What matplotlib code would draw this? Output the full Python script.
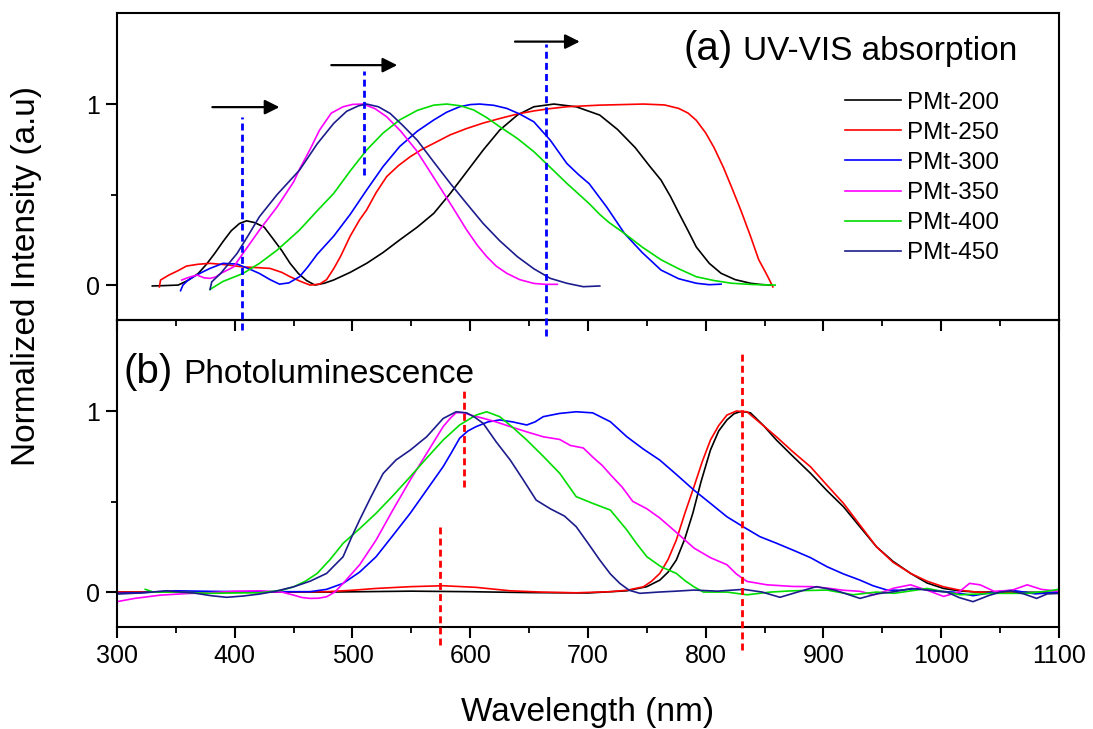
import matplotlib
matplotlib.use('Agg')
import matplotlib.pyplot as plt
from matplotlib.ticker import MultipleLocator, FixedLocator

plt.rcParams['font.family'] = ['Liberation Sans', 'DejaVu Sans']

# ---- (a) UV-VIS absorption ----
abs200_x = [330, 340, 352, 360, 369, 376, 383, 390, 397, 404, 410, 417, 425, 432, 440, 447, 454, 461, 468,
            476, 484, 498, 512, 526, 540, 555, 569, 583, 597, 611, 625, 640, 654, 671, 690, 710, 725, 740,
            752, 762, 770, 777, 785, 792, 803, 813, 825, 838, 847, 855]
abs200_y = [-0.005, -0.003, 0.0, 0.025, 0.064, 0.115, 0.175, 0.24, 0.30, 0.34, 0.355, 0.345, 0.32, 0.26, 0.19,
            0.12, 0.064, 0.025, 0.0, 0.01, 0.028, 0.07, 0.12, 0.18, 0.249, 0.32, 0.396, 0.506, 0.626, 0.746,
            0.856, 0.939, 0.985, 1.0, 0.985, 0.939, 0.86, 0.76, 0.66, 0.58, 0.49, 0.40, 0.30, 0.21, 0.12,
            0.065, 0.03, 0.01, 0.003, 0.0]

abs250_x = [336, 337, 344, 352, 359, 369, 379, 393, 407, 420, 430, 440, 447, 456, 464, 472, 478, 484, 490,
            498, 506, 512, 520, 529, 539, 549, 559, 569, 583, 597, 611, 625, 640, 654, 668, 682, 710, 747,
            765, 777, 785, 792, 800, 807, 815, 822, 830, 838, 845, 850, 854, 857]
abs250_y = [-0.01, 0.028, 0.055, 0.08, 0.105, 0.115, 0.12, 0.112, 0.10, 0.096, 0.092, 0.07, 0.046, 0.02, 0.0,
            0.005, 0.03, 0.09, 0.16, 0.27, 0.36, 0.415, 0.51, 0.599, 0.66, 0.709, 0.75, 0.783, 0.83, 0.865,
            0.895, 0.92, 0.945, 0.962, 0.975, 0.985, 0.994, 1.0, 0.995, 0.976, 0.95, 0.91, 0.84, 0.76, 0.65,
            0.54, 0.41, 0.27, 0.14, 0.08, 0.03, -0.01]

abs300_x = [354, 356, 360, 365, 372, 379, 390, 402, 412, 421, 430, 438, 446, 455, 462, 470, 484, 498, 512,
            526, 540, 555, 569, 580, 591, 600, 608, 620, 631, 642, 654, 668, 682, 692, 701, 716, 731, 746,
            762, 777, 792, 803, 813]
abs300_y = [-0.031, 0.0, 0.025, 0.046, 0.07, 0.092, 0.12, 0.116, 0.09, 0.064, 0.03, 0.005, 0.012, 0.046, 0.1,
            0.17, 0.27, 0.39, 0.525, 0.655, 0.765, 0.85, 0.912, 0.955, 0.985, 0.997, 1.0, 0.993, 0.976, 0.945,
            0.902, 0.80, 0.672, 0.61, 0.56, 0.43, 0.285, 0.18, 0.083, 0.035, 0.01, 0.002, 0.005]

abs350_x = [355, 362, 368, 374, 379, 384, 388, 399, 407, 421, 436, 450, 455, 464, 472, 482, 492, 500, 509,
            519, 529, 541, 554, 564, 574, 586, 597, 606, 614, 622, 631, 642, 654, 664, 674]
abs350_y = [0.028, 0.045, 0.055, 0.04, 0.037, 0.045, 0.064, 0.1, 0.175, 0.304, 0.432, 0.57, 0.64, 0.75, 0.856,
            0.95, 0.985, 0.998, 1.0, 0.975, 0.93, 0.85, 0.746, 0.645, 0.543, 0.42, 0.304, 0.22, 0.157, 0.105,
            0.065, 0.03, 0.009, 0.004, 0.004]

abs400_x = [379, 390, 407, 421, 436, 455, 470, 484, 498, 512, 526, 540, 555, 569, 580, 592, 603, 614, 625,
            640, 654, 668, 682, 701, 710, 718, 731, 746, 762, 777, 792, 807, 822, 840, 859]
abs400_y = [-0.024, 0.02, 0.064, 0.12, 0.193, 0.304, 0.41, 0.506, 0.63, 0.746, 0.84, 0.912, 0.965, 0.994, 1.0,
            0.99, 0.967, 0.925, 0.875, 0.81, 0.737, 0.65, 0.562, 0.45, 0.39, 0.345, 0.285, 0.21, 0.14, 0.09,
            0.046, 0.025, 0.01, 0.003, 0.0]

abs450_x = [379, 380.5, 388, 402, 412, 421, 436, 455, 470, 484, 495, 505, 512, 522, 532, 543, 555, 569, 583,
            597, 611, 625, 640, 654, 668, 682, 696, 710]
abs450_y = [-0.024, 0.018, 0.064, 0.175, 0.28, 0.378, 0.50, 0.635, 0.78, 0.893, 0.96, 0.99, 1.0, 0.985, 0.948,
            0.88, 0.80, 0.68, 0.562, 0.45, 0.34, 0.245, 0.157, 0.09, 0.037, 0.01, -0.009, -0.005]

# ---- (b) Photoluminescence ----
pl200_x = [300, 400, 480, 550, 600, 650, 700, 733, 750, 761, 768, 775, 782, 789, 796, 804, 811, 818, 824, 829,
           834, 838, 849, 860, 874, 889, 903, 917, 931, 945, 959, 974, 988, 1002, 1016, 1030, 1060, 1100]
pl200_y = [0.0, 0.0, 0.0, 0.005, 0.002, -0.003, -0.005, 0.007, 0.03, 0.066, 0.11, 0.177, 0.29, 0.435, 0.61,
           0.785, 0.89, 0.951, 0.985, 0.996, 0.995, 0.99, 0.92, 0.84, 0.75, 0.656, 0.56, 0.471, 0.36, 0.25,
           0.17, 0.103, 0.05, 0.02, 0.006, 0.0, 0.0, -0.003]

pl250_x = [300, 400, 478, 500, 520, 550, 577, 605, 634, 660, 690, 719, 733, 747, 754, 761, 768, 775, 782, 790,
           797, 804, 811, 818, 826, 835, 847, 860, 874, 889, 903, 917, 931, 945, 959, 974, 988, 1002, 1016,
           1030, 1060, 1100]
pl250_y = [0.0, 0.0, 0.002, 0.01, 0.02, 0.03, 0.035, 0.026, 0.007, 0.0, -0.004, 0.002, 0.01, 0.029, 0.06,
           0.103, 0.18, 0.287, 0.43, 0.582, 0.72, 0.84, 0.92, 0.978, 1.0, 0.996, 0.93, 0.858, 0.775, 0.692,
           0.59, 0.49, 0.37, 0.25, 0.165, 0.103, 0.06, 0.029, 0.01, 0.0, -0.005, -0.007]

pl300_x = [300, 320, 350, 380, 407, 440, 464, 478, 492, 506, 520, 534, 549, 563, 577, 584, 591, 598, 605, 615,
           625, 636, 648, 655, 662, 676, 690, 704, 719, 733, 747, 761, 775, 790, 804, 818, 832, 846, 860,
           874, 889, 903, 917, 931, 942, 954, 965, 980, 995, 1010, 1027, 1045, 1060, 1080, 1100]
pl300_y = [-0.007, -0.004, 0.007, 0.004, 0.002, 0.002, 0.002, 0.015, 0.048, 0.11, 0.195, 0.31, 0.435, 0.564,
           0.693, 0.77, 0.85, 0.89, 0.914, 0.94, 0.951, 0.94, 0.923, 0.94, 0.969, 0.987, 0.996, 0.99, 0.941,
           0.858, 0.79, 0.729, 0.65, 0.563, 0.49, 0.416, 0.36, 0.306, 0.27, 0.232, 0.19, 0.14, 0.1, 0.066,
           0.035, 0.011, 0.01, 0.02, 0.005, 0.0, -0.02, 0.0, 0.01, -0.01, 0.0]

pl350_x = [300, 315, 337, 360, 379, 400, 421, 440, 450, 457, 464, 471, 478, 485, 492, 506, 520, 534, 549, 563,
           577, 583, 588, 594, 602, 611, 622, 634, 648, 662, 676, 685, 696, 705, 712, 719, 729, 738, 750,
           761, 775, 790, 804, 818, 826, 835, 852, 874, 890, 903, 917, 931, 943, 950, 960, 974, 988, 1002,
           1015, 1024, 1033, 1045, 1060, 1073, 1085, 1100]
pl350_y = [-0.053, -0.035, -0.017, -0.008, -0.004, 0.005, 0.007, 0.0, -0.017, -0.03, -0.035, -0.034, -0.026,
           0.0, 0.048, 0.15, 0.287, 0.45, 0.619, 0.766, 0.914, 0.96, 0.991, 0.991, 0.975, 0.96, 0.94, 0.914,
           0.885, 0.858, 0.843, 0.81, 0.796, 0.74, 0.70, 0.649, 0.58, 0.501, 0.46, 0.409, 0.33, 0.243, 0.19,
           0.151, 0.10, 0.059, 0.04, 0.031, 0.03, 0.022, 0.01, 0.004, -0.015, 0.0, 0.022, 0.04, 0.01, -0.024,
           0.0, 0.048, 0.04, 0.004, 0.01, 0.04, 0.015, 0.004]

pl400_x = [324, 331, 350, 379, 400, 421, 440, 450, 460, 470, 481, 492, 506, 520, 534, 549, 563, 577, 591, 605,
           614, 625, 636, 648, 662, 676, 690, 704, 719, 733, 741, 750, 762, 775, 783, 790, 798, 818, 835,
           855, 874, 903, 925, 945, 960, 988, 1016, 1045, 1073, 1090, 1100]
pl400_y = [0.015, 0.0, 0.0, -0.007, -0.005, -0.004, 0.01, 0.029, 0.06, 0.103, 0.18, 0.269, 0.35, 0.435, 0.53,
           0.637, 0.74, 0.84, 0.923, 0.978, 0.996, 0.969, 0.91, 0.84, 0.75, 0.656, 0.527, 0.49, 0.453, 0.343,
           0.27, 0.195, 0.14, 0.103, 0.06, 0.029, 0.0, 0.0, -0.015, 0.0, 0.007, 0.011, -0.015, 0.0, -0.007,
           0.02, -0.015, -0.007, -0.007, 0.005, 0.015]

pl450_x = [300, 320, 342, 365, 380, 393, 407, 421, 435, 450, 464, 478, 492, 499, 506, 516, 526, 537, 549, 563,
           577, 588, 597, 604, 611, 622, 634, 645, 656, 668, 680, 690, 700, 710, 719, 727, 735, 744, 760,
           775, 790, 810, 832, 848, 863, 878, 894, 910, 931, 945, 960, 975, 988, 1005, 1015, 1027, 1040,
           1050, 1059, 1070, 1081, 1090, 1100]
pl450_y = [-0.011, -0.005, 0.007, -0.005, -0.02, -0.029, -0.022, -0.011, 0.005, 0.029, 0.06, 0.103, 0.195, 0.3,
           0.398, 0.53, 0.655, 0.73, 0.784, 0.858, 0.959, 0.996, 0.99, 0.965, 0.932, 0.83, 0.729, 0.62,
           0.508, 0.46, 0.42, 0.361, 0.27, 0.177, 0.1, 0.048, 0.01, -0.007, 0.0, 0.005, 0.011, 0.005, 0.015,
           0.0, -0.029, 0.0, 0.03, 0.01, -0.035, -0.01, 0.002, 0.02, 0.011, 0.0, -0.03, -0.053, -0.02, 0.0,
           0.007, -0.01, -0.035, -0.01, -0.007]

labels = ['PMt-200', 'PMt-250', 'PMt-300', 'PMt-350', 'PMt-400', 'PMt-450']
colors = ['#000000', '#ff0000', '#0000ff', '#ff00ff', '#00dd00', '#1c1c8c']

abs_x = [abs200_x, abs250_x, abs300_x, abs350_x, abs400_x, abs450_x]
abs_y = [abs200_y, abs250_y, abs300_y, abs350_y, abs400_y, abs450_y]
pl_x = [pl200_x, pl250_x, pl300_x, pl350_x, pl400_x, pl450_x]
pl_y = [pl200_y, pl250_y, pl300_y, pl350_y, pl400_y, pl450_y]

# dashed peak markers and shift arrows
abs_mark_x = [406, 510, 664]
abs_mark_lo = [-0.25, 0.61, -0.28]
abs_mark_hi = [0.93, 1.18, 1.33]
pl_mark_x = [574, 595, 831]
pl_mark_lo = [-0.29, 0.58, -0.32]
pl_mark_hi = [0.357, 1.134, 1.337]
arrow_x0 = [381, 482, 638]
arrow_x1 = [438, 538, 693]
arrow_y = [0.983, 1.215, 1.345]

fig = plt.figure(figsize=(10.93, 7.29), dpi=100)
ax_b = fig.add_axes([0.10704, 0.13992, 0.86185, 0.42112])
ax_a = fig.add_axes([0.10704, 0.56104, 0.86185, 0.42112])

for ax in (ax_a, ax_b):
    ax.patch.set_alpha(0)
    ax.set_xlim(300, 1100)
    ax.set_ylim(-0.193, 1.503)
    ax.xaxis.set_major_locator(MultipleLocator(100))
    ax.xaxis.set_minor_locator(MultipleLocator(50))
    ax.set_yticks([0, 1])
    ax.yaxis.set_minor_locator(FixedLocator([0.5]))
    ax.tick_params(which='major', direction='out', length=8, width=1.5, labelsize=18, pad=4)
    ax.tick_params(which='minor', direction='out', length=4.5, width=1.3)
    for s in ax.spines.values():
        s.set_linewidth(1.5)

ax_a.tick_params(axis='x', which='both', labelbottom=False)

for i in range(6):
    ax_a.plot(abs_x[i], abs_y[i], color=colors[i], lw=1.2, label=labels[i])
    ax_b.plot(pl_x[i], pl_y[i], color=colors[i], lw=1.2)

for i in range(3):
    ax_a.plot([abs_mark_x[i], abs_mark_x[i]], [abs_mark_lo[i], abs_mark_hi[i]], color='#0000ff',
              lw=2, ls=(0, (2.5, 1.5)), clip_on=False, zorder=5)
    ax_b.plot([pl_mark_x[i], pl_mark_x[i]], [pl_mark_lo[i], pl_mark_hi[i]], color='#ff0000',
              lw=2, ls=(0, (2.5, 1.5)), clip_on=False, zorder=5)
    ax_a.annotate('', xy=(arrow_x1[i], arrow_y[i]), xytext=(arrow_x0[i], arrow_y[i]),
                  arrowprops=dict(arrowstyle='-|>', color='k', lw=1.6, mutation_scale=22,
                                  shrinkA=0, shrinkB=0))

ax_a.legend(loc='center left', bbox_to_anchor=(845 / 1093, 1 - 178 / 729),
            bbox_transform=fig.transFigure, frameon=False, fontsize=17.5,
            handlelength=2.3, handletextpad=0.25, labelspacing=0.33,
            borderpad=0, borderaxespad=0)

fig.text(684 / 1093, 1 - 60 / 729, '(a)', fontsize=29, va='baseline', ha='left')
fig.text(743 / 1093, 1 - 60 / 729, 'UV-VIS absorption', fontsize=24, va='baseline', ha='left')
fig.text(123 / 1093, 1 - 383 / 729, '(b)', fontsize=29, va='baseline', ha='left')
fig.text(183 / 1093, 1 - 383 / 729, 'Photoluminescence', fontsize=24, va='baseline', ha='left')

fig.text(27 / 1093, 1 - 276 / 729, 'Normalized Intensity (a.u)', fontsize=24,
         rotation=90, va='center', ha='center')
fig.text(588 / 1093, 1 - 712 / 729, 'Wavelength (nm)', fontsize=24, va='center', ha='center')

fig.savefig('out.png', dpi=100)
